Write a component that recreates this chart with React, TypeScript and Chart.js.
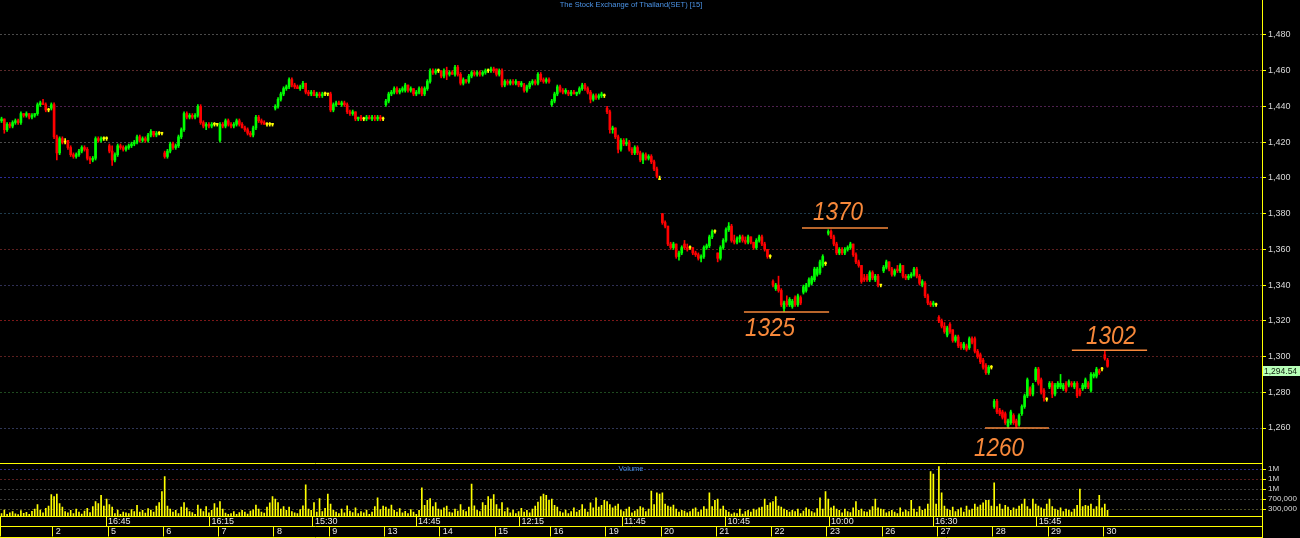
import React, { useEffect, useRef } from "react";
import { Chart, registerables } from "chart.js";

Chart.register(...registerables);

// ---- DATA: 15-minute bars, [open, high, low, close], one array per trading day ----
const day01 = [
  [1431,1434,1430,1433],[1432,1434,1431,1433],[1433,1433,1425,1427],[1427,1431,1426,1430],[1430,1431,1428,1429],
  [1429,1432,1428,1431],[1431,1433,1430,1432],[1432,1433,1430,1431],[1431,1437,1430,1436],[1436,1436,1434,1435],
  [1435,1437,1434,1436],[1436,1436,1433,1434],[1434,1436,1433,1435],[1435,1436,1434,1436],[1436,1442,1435,1441],
  [1441,1443,1440,1442],[1442,1444,1441,1441],[1441,1442,1437,1438],[1438,1439,1437,1438],[1439,1442,1438,1441],
];
const day02 = [
  [1441,1442,1422,1423],[1423,1424,1410,1414],[1414,1423,1413,1422],[1422,1423,1419,1420],[1420,1422,1419,1420],
  [1421,1421,1416,1417],[1417,1418,1412,1413],[1413,1414,1411,1412],[1412,1414,1411,1413],[1413,1416,1412,1415],
  [1415,1418,1414,1417],[1417,1418,1415,1416],[1416,1417,1410,1411],[1411,1412,1408,1410],[1410,1412,1409,1411],
  [1411,1423,1410,1422],[1422,1423,1420,1421],[1421,1423,1420,1422],[1422,1423,1421,1422],[1422,1423,1421,1422],
];
const day05 = [
  [1418,1419,1414,1415],[1415,1418,1407,1410],[1410,1414,1409,1413],[1413,1419,1412,1418],[1418,1419,1416,1417],
  [1417,1418,1415,1416],[1416,1418,1415,1417],[1417,1419,1416,1418],[1418,1420,1417,1419],[1419,1421,1418,1420],
  [1420,1424,1419,1423],[1423,1424,1420,1421],[1421,1423,1420,1422],[1422,1423,1420,1421],[1421,1425,1420,1424],
  [1424,1427,1423,1426],[1426,1426,1423,1424],[1424,1426,1423,1425],[1425,1426,1424,1425],[1425,1425,1424,1425],
];
const day06 = [
  [1414,1415,1411,1412],[1412,1416,1411,1415],[1415,1420,1414,1419],[1419,1420,1416,1417],[1417,1419,1416,1418],
  [1418,1424,1417,1423],[1423,1428,1422,1427],[1427,1437,1426,1436],[1436,1437,1433,1434],[1434,1436,1433,1435],
  [1435,1436,1433,1434],[1434,1436,1433,1435],[1435,1441,1434,1440],[1440,1441,1430,1431],[1431,1432,1428,1429],
  [1429,1431,1427,1430],[1430,1431,1428,1429],[1429,1431,1428,1430],[1430,1431,1429,1430],[1430,1430,1429,1430],
];
const day07 = [
  [1421,1431,1420,1430],[1430,1431,1428,1429],[1429,1433,1428,1432],[1432,1433,1429,1430],[1430,1431,1428,1429],
  [1429,1431,1428,1430],[1430,1433,1429,1432],[1432,1433,1429,1430],[1430,1431,1428,1428],[1428,1429,1426,1427],
  [1427,1428,1424,1425],[1425,1426,1423,1424],[1424,1429,1423,1428],[1428,1435,1427,1434],[1434,1435,1431,1432],
  [1432,1433,1430,1431],[1431,1432,1430,1430],[1430,1431,1429,1430],[1430,1431,1429,1430],[1430,1430,1429,1430],
];
const day08 = [
  [1439,1441,1438,1440],[1440,1445,1439,1444],[1444,1448,1443,1447],[1447,1451,1446,1450],[1450,1452,1449,1451],
  [1451,1456,1450,1455],[1455,1456,1451,1452],[1452,1453,1450,1451],[1451,1452,1450,1450],[1450,1452,1449,1451],
  [1451,1454,1450,1453],[1453,1453,1447,1448],[1448,1449,1446,1447],[1447,1449,1446,1448],[1448,1449,1446,1446],
  [1446,1448,1445,1447],[1447,1448,1445,1446],[1446,1448,1445,1447],[1447,1448,1446,1447],[1447,1447,1446,1447],
];
const day09 = [
  [1447,1448,1437,1438],[1438,1442,1437,1441],[1441,1443,1440,1442],[1442,1443,1441,1441],[1441,1443,1440,1442],
  [1442,1443,1440,1441],[1441,1442,1436,1437],[1437,1438,1435,1436],[1436,1438,1435,1437],[1437,1437,1432,1433],
  [1433,1434,1432,1434],[1434,1435,1432,1433],[1433,1434,1432,1433],[1433,1435,1432,1434],[1434,1435,1433,1433],
  [1433,1435,1432,1434],[1434,1435,1432,1433],[1433,1435,1432,1434],[1434,1435,1432,1433],[1433,1434,1432,1433],
];
const day13 = [
  [1441,1444,1440,1443],[1443,1448,1442,1447],[1447,1449,1446,1448],[1448,1451,1447,1450],[1450,1451,1447,1448],
  [1448,1450,1447,1449],[1449,1451,1448,1450],[1449,1453,1448,1452],[1452,1452,1448,1449],[1449,1451,1448,1450],
  [1450,1450,1446,1447],[1447,1449,1446,1448],[1448,1451,1447,1450],[1450,1451,1446,1447],[1447,1451,1446,1450],
  [1450,1455,1449,1454],[1454,1461,1453,1460],[1460,1461,1458,1459],[1459,1461,1458,1460],[1460,1461,1459,1460],
];
const day14 = [
  [1460,1460,1456,1457],[1457,1461,1456,1460],[1460,1462,1455,1458],[1458,1460,1457,1459],[1459,1460,1458,1458],
  [1458,1463,1457,1462],[1462,1463,1457,1458],[1458,1459,1452,1453],[1453,1456,1452,1455],[1455,1455,1453,1454],
  [1454,1458,1453,1457],[1457,1460,1456,1459],[1459,1460,1457,1458],[1458,1460,1457,1459],[1459,1460,1457,1458],
  [1458,1460,1457,1459],[1459,1461,1458,1460],[1460,1461,1459,1460],[1460,1462,1459,1461],[1461,1462,1459,1460],
];
const day15 = [
  [1461,1461,1457,1458],[1458,1461,1457,1460],[1460,1461,1451,1452],[1452,1455,1451,1454],[1454,1455,1452,1453],
  [1453,1455,1452,1454],[1454,1455,1452,1453],[1453,1455,1452,1454],[1454,1454,1451,1452],[1452,1454,1451,1453],
  [1452,1453,1448,1449],[1449,1452,1448,1451],[1451,1454,1450,1453],[1453,1455,1452,1454],[1454,1455,1452,1453],
  [1453,1459,1452,1458],[1458,1459,1454,1455],[1455,1456,1453,1454],[1454,1456,1453,1455],[1455,1456,1453,1454],
];
const day16 = [
  [1441,1444,1440,1443],[1443,1448,1442,1447],[1447,1452,1446,1451],[1451,1452,1448,1449],[1449,1450,1447,1448],
  [1448,1450,1447,1449],[1448,1449,1446,1447],[1447,1449,1446,1448],[1448,1449,1447,1447],[1447,1448,1446,1448],
  [1448,1451,1447,1450],[1450,1453,1449,1452],[1452,1453,1449,1450],[1450,1451,1447,1448],[1448,1449,1442,1444],
  [1444,1447,1443,1446],[1446,1447,1444,1445],[1445,1447,1444,1446],[1446,1448,1445,1447],[1446,1447,1445,1446],
];
const day19 = [
  [1439,1440,1436,1437],[1437,1438,1425,1427],[1427,1429,1425,1428],[1428,1428,1422,1423],[1423,1424,1414,1416],
  [1416,1422,1415,1421],[1421,1422,1418,1419],[1419,1422,1418,1420],[1420,1421,1415,1416],[1416,1417,1413,1414],
  [1414,1418,1413,1417],[1417,1418,1413,1414],[1414,1415,1409,1410],[1410,1414,1408,1413],[1413,1414,1410,1411],
  [1411,1413,1410,1412],[1412,1413,1408,1409],[1409,1410,1404,1405],[1405,1406,1400,1401],[1399,1401,1399,1399],
];
const day20 = [
  [1380,1380,1374,1375],[1375,1376,1372,1373],[1373,1373,1362,1363],[1363,1364,1360,1361],[1361,1364,1360,1363],
  [1363,1363,1355,1356],[1356,1359,1354,1358],[1358,1362,1357,1361],[1363,1365,1360,1361],[1361,1363,1359,1360],
  [1361,1362,1360,1361],[1361,1361,1357,1358],[1358,1359,1356,1357],[1357,1358,1354,1355],[1355,1357,1353,1356],
  [1356,1362,1355,1361],[1361,1363,1360,1362],[1362,1368,1361,1367],[1367,1371,1366,1370],[1370,1371,1369,1370],
];
const day21 = [
  [1358,1358,1353,1355],[1355,1362,1354,1361],[1361,1366,1360,1365],[1365,1372,1364,1371],[1371,1375,1370,1373],
  [1373,1374,1364,1365],[1365,1368,1363,1364],[1364,1367,1363,1366],[1366,1368,1364,1367],[1367,1368,1364,1365],
  [1365,1367,1363,1364],[1364,1368,1363,1367],[1367,1367,1363,1364],[1364,1364,1360,1361],[1361,1366,1360,1365],
  [1365,1368,1364,1367],[1367,1368,1362,1363],[1363,1364,1359,1360],[1360,1360,1355,1356],[1356,1357,1355,1356],
];
const day22 = [
  [1342,1343,1339,1340],[1338,1341,1337,1340],[1340,1345,1336,1337],[1337,1338,1328,1329],[1327,1331,1325,1330],
  [1331,1334,1328,1329],[1329,1333,1328,1332],[1328,1332,1327,1331],[1333,1334,1328,1329],[1329,1335,1328,1334],
  [1333,1334,1329,1330],[1336,1340,1335,1339],[1337,1341,1336,1340],[1340,1344,1339,1343],[1341,1345,1340,1344],
  [1343,1350,1342,1349],[1346,1350,1345,1349],[1347,1354,1346,1353],[1351,1357,1350,1356],[1352,1353,1351,1352],
];
const day23 = [
  [1369,1371,1368,1370],[1370,1371,1366,1367],[1367,1368,1362,1363],[1363,1364,1357,1358],[1358,1361,1357,1360],
  [1360,1361,1357,1358],[1358,1361,1357,1360],[1360,1362,1359,1361],[1361,1364,1360,1363],[1363,1363,1356,1357],
  [1357,1358,1352,1353],[1353,1354,1350,1351],[1351,1351,1341,1342],[1344,1346,1342,1343],[1345,1346,1342,1343],
  [1343,1348,1342,1347],[1347,1348,1343,1344],[1343,1346,1342,1345],[1345,1346,1339,1340],[1340,1340,1339,1340],
];
const day26 = [
  [1348,1351,1347,1350],[1350,1354,1349,1353],[1353,1353,1348,1349],[1349,1350,1345,1346],[1346,1349,1345,1348],
  [1349,1351,1347,1348],[1348,1352,1347,1351],[1351,1351,1344,1345],[1345,1346,1343,1344],[1344,1346,1343,1345],
  [1345,1347,1344,1346],[1346,1350,1345,1349],[1349,1350,1344,1345],[1345,1346,1340,1341],[1340,1343,1339,1342],
  [1341,1342,1333,1334],[1334,1335,1329,1330],[1330,1331,1328,1329],[1329,1331,1328,1330],[1329,1330,1328,1329],
];
const day27 = [
  [1322,1323,1319,1320],[1320,1321,1316,1317],[1317,1319,1313,1314],[1312,1317,1311,1316],[1318,1319,1313,1314],
  [1315,1315,1308,1309],[1309,1312,1308,1311],[1311,1312,1305,1306],[1307,1308,1304,1305],[1305,1308,1304,1307],
  [1306,1307,1303,1304],[1305,1311,1304,1310],[1310,1311,1307,1308],[1310,1311,1302,1303],[1303,1304,1299,1300],
  [1301,1302,1296,1297],[1298,1299,1293,1294],[1295,1296,1290,1291],[1291,1295,1290,1294],[1294,1295,1293,1294],
];
const day28 = [
  [1272,1276,1271,1275],[1275,1276,1268,1269],[1270,1271,1267,1268],[1269,1270,1265,1266],[1268,1269,1262,1263],
  [1261,1265,1260,1264],[1263,1270,1262,1269],[1267,1268,1262,1263],[1264,1265,1260,1261],[1262,1268,1261,1267],
  [1268,1273,1267,1272],[1272,1279,1271,1278],[1278,1288,1277,1287],[1282,1283,1278,1279],[1279,1285,1278,1284],
  [1287,1294,1286,1293],[1293,1294,1284,1285],[1287,1288,1279,1280],[1281,1282,1275,1277],[1276,1277,1275,1276],
];
const day29 = [
  [1283,1286,1282,1285],[1285,1286,1277,1279],[1279,1285,1278,1284],[1283,1286,1282,1285],[1283,1290,1282,1285],
  [1282,1285,1281,1284],[1285,1286,1280,1281],[1284,1287,1283,1286],[1285,1286,1283,1284],[1283,1286,1282,1285],
  [1285,1286,1277,1278],[1281,1282,1278,1279],[1282,1285,1281,1284],[1283,1288,1282,1287],[1285,1286,1282,1283],
  [1281,1291,1280,1290],[1289,1291,1288,1290],[1289,1294,1288,1293],[1292,1293,1290,1291],[1293,1294,1292,1293],
];
const day30 = [
  [1301,1303,1298,1299],[1298,1299,1294,1294.54],
];

// Volume per bar, thousands of shares
const vol01 = [180,120,260,90,150,200,110,80,240,130,170,90,210,300,480,260,150,330,420,880];
const vol02 = [800,900,520,380,200,150,250,120,300,180,100,220,330,160,400,600,520,850,420,700];
const vol05 = [480,380,120,260,90,180,150,120,280,200,450,180,250,140,320,260,180,420,560,1000];
const vol06 = [1600,420,300,180,250,120,380,560,350,200,160,90,460,300,200,400,150,250,520,350];
const vol07 = [600,300,140,90,120,200,90,160,250,180,100,220,270,460,300,180,140,380,550,800];
const vol08 = [700,560,300,400,250,380,200,150,120,280,430,1270,300,250,560,180,720,200,330,900];
const vol09 = [500,250,180,120,300,150,430,220,160,350,120,200,150,260,90,180,400,750,280,420];
const vol13 = [380,300,460,250,180,320,150,210,120,280,180,90,250,1150,450,650,720,400,560,300];
const vol14 = [260,350,420,180,150,300,220,480,260,200,380,1300,430,250,200,560,450,800,700,880];
const vol15 = [480,300,560,200,350,150,260,120,200,330,180,250,150,300,420,580,800,900,850,650];
const vol16 = [700,450,380,200,150,260,120,200,350,180,250,480,300,180,550,350,750,380,450,650];
const vol19 = [600,480,350,420,500,260,200,300,380,150,220,280,400,350,200,300,1020,480,950,900];
const vol20 = [950,500,420,380,460,300,180,250,220,150,200,300,350,180,260,400,300,950,400,650];
const vol21 = [700,300,420,250,180,100,150,120,300,100,200,250,180,300,260,350,380,700,450,550];
const vol22 = [600,800,420,380,300,250,180,250,200,300,120,220,350,280,200,150,320,750,300,1000];
const vol23 = [700,350,420,300,250,150,300,200,160,350,600,250,300,200,180,260,400,700,350,300];
const vol26 = [280,150,200,250,180,120,350,180,260,200,650,300,180,400,250,300,500,1800,1700,500];
const vol27 = [2000,950,420,300,250,380,200,280,350,180,420,250,300,500,380,460,550,650,650,420];
const vol28 = [1350,400,500,300,450,380,250,350,300,420,500,700,400,300,700,500,420,350,300,500];
const vol29 = [700,400,300,250,350,200,300,250,180,300,450,1100,400,450,420,500,300,400,850,350];
const vol30 = [500,250];

const candles = [
  ...day01, ...day02, ...day05, ...day06, ...day07, ...day08, ...day09, ...day13, ...day14, ...day15,
  ...day16, ...day19, ...day20, ...day21, ...day22, ...day23, ...day26, ...day27, ...day28, ...day29, ...day30,
];
const volumeK = [
  ...vol01, ...vol02, ...vol05, ...vol06, ...vol07, ...vol08, ...vol09, ...vol13, ...vol14, ...vol15,
  ...vol16, ...vol19, ...vol20, ...vol21, ...vol22, ...vol23, ...vol26, ...vol27, ...vol28, ...vol29, ...vol30,
];

const BARS_PER_DAY = 20;
const dateLabels = ["2","5","6","7","8","9","13","14","15","16","19","20","21","22","23","26","27","28","29","30"];
const timeLabels = ["16:45","16:15","15:30","14:45","12:15","11:45","10:45","10:00","16:30","15:45"];
const timeTickBars = [38.8, 76.2, 113.6, 150.9, 188.3, 225.4, 262.8, 300.3, 337.9, 375.4];
const priceTicks = [1260,1280,1300,1320,1340,1360,1380,1400,1420,1440,1460,1480];
const volumeTicks = [300000,700000,1100000,1500000,1900000];
const lastPrice = 1294.54;
const TITLE = "The Stock Exchange of Thailand(SET) [15]";

// annotation levels: label, level of the drawn line, line start/end bar
const markLabels = ["1370","1325","1302","1260"];
const markLevels = [1372, 1325, 1303.5, 1260];
const markFrom = [290.5, 269.5, 388.1, 356.7];
const markTo = [321.6, 300.3, 415.3, 379.8];
// label placement (bar index of left edge, price of baseline)
const markTextBar = [294.5, 269.9, 393.2, 352.7];
const markTextPrice = [1376.7, 1311.7, 1307.0, 1244.3];

// ---- styling ----
const X_MIN = 0.44;
const X_MAX = 456.86;
const FONT = '"Liberation Sans", Arial, sans-serif';
const YELLOW = "#ffff00";
const ORANGE = "#f7883a";

const priceGridColors: Record<number, string> = {
  1480: "#4a4a4a", 1460: "#5c2a2a", 1440: "#4e214e", 1420: "#4a4a4a", 1400: "#2b2b98",
  1380: "#1f3b4c", 1360: "#5c1f1f", 1340: "#2f2f55", 1320: "#7c1818", 1300: "#5c1f1f",
  1280: "#1f4a1f", 1260: "#2f3656",
};
const volGridColors: Record<number, string> = {
  1900000: "#2b2b88", 1500000: "#5c1f1f", 1100000: "#3c3c3c", 700000: "#3c3c3c", 300000: "#4c4c2a",
};

function candleColor(c: number[]) {
  if (c[3] === c[0]) return YELLOW;
  return c[3] > c[0] ? "#00ff00" : "#ff0000";
}

export default function App() {
  const refA = useRef<HTMLCanvasElement>(null);
  const refB = useRef<HTMLCanvasElement>(null);

  useEffect(() => {
    const colors = candles.map(candleColor);
    const wickData = candles.map((c, i) => ({ x: i, y: [c[2], c[1]] }));
    const bodyData = candles.map((c, i) => ({ x: i, y: [c[0], c[3]] }));
    const volData = volumeK.map((v, i) => ({ x: i, y: v * 1000 }));

    const lineSets = markLevels.map((lvl, k) => ({
      type: "line" as const,
      data: [{ x: markFrom[k], y: lvl }, { x: markTo[k], y: lvl }],
      borderColor: ORANGE,
      borderWidth: 1.5,
      pointRadius: 0,
      fill: false,
      order: 0,
    }));

    const overlayA = {
      id: "overlayA",
      afterDraw(chart: any) {
        const { ctx } = chart;
        const xs = chart.scales.x;
        const ys = chart.scales.y;
        ctx.save();
        ctx.font = `7.5px ${FONT}`;
        ctx.fillStyle = "#4b93e6";
        ctx.textAlign = "center";
        ctx.textBaseline = "top";
        ctx.fillText(TITLE, 631, 1);

        ctx.fillStyle = ORANGE;
        ctx.font = `italic 25px ${FONT}`;
        ctx.textAlign = "left";
        ctx.textBaseline = "alphabetic";
        markLabels.forEach((lab, k) => {
          const px = xs.getPixelForValue(markTextBar[k]);
          const py = ys.getPixelForValue(markTextPrice[k]);
          ctx.save();
          ctx.translate(px, py);
          ctx.scale(0.9, 1);
          ctx.fillText(lab, 0, 0);
          ctx.restore();
        });

        const py = Math.round(ys.getPixelForValue(lastPrice));
        ctx.fillStyle = "#b8ffb8";
        ctx.fillRect(1263, py, 37, 10);
        ctx.fillStyle = "#102010";
        ctx.font = `8.5px ${FONT}`;
        ctx.textBaseline = "middle";
        ctx.fillText(lastPrice.toLocaleString("en-US"), 1264, py + 5.5);
        ctx.restore();
      },
    };

    const chartA = new Chart(refA.current as HTMLCanvasElement, {
      type: "bar",
      data: {
        datasets: [
          ...lineSets,
          { type: "bar", data: wickData, backgroundColor: colors, barThickness: 1, grouped: false, order: 2 } as any,
          { type: "bar", data: bodyData, backgroundColor: colors, barThickness: 2, grouped: false, minBarLength: 1, order: 1 } as any,
        ],
      },
      options: {
        responsive: false,
        animation: false,
        devicePixelRatio: 1,
        layout: { padding: 0 },
        plugins: { legend: { display: false }, tooltip: { enabled: false } },
        scales: {
          x: { type: "linear", min: X_MIN, max: X_MAX, offset: false, display: false, grid: { offset: false } },
          y: {
            type: "linear",
            position: "right",
            min: 1240.41,
            max: 1499.59,
            afterFit: (s: any) => { s.width = 38; s.paddingTop = 0; s.paddingBottom = 0; },
            afterBuildTicks: (s: any) => { s.ticks = priceTicks.map((v) => ({ value: v })); },
            ticks: {
              color: "#d8d8d8",
              font: { family: FONT, size: 9 },
              padding: 2,
              autoSkip: false,
              callback: (v: any) => Number(v).toLocaleString("en-US"),
            },
            grid: {
              color: (c: any) => priceGridColors[c.tick?.value] || "#3a3a3a",
              tickColor: YELLOW,
              tickLength: 4,
              lineWidth: 1,
            },
            border: { color: YELLOW, width: 1, dash: [2, 2] },
          },
        },
      } as any,
      plugins: [overlayA],
    });

    const overlayB = {
      id: "overlayB",
      afterDraw(chart: any) {
        const { ctx } = chart;
        ctx.save();
        ctx.strokeStyle = YELLOW;
        ctx.lineWidth = 1;
        ctx.beginPath();
        ctx.moveTo(0, 0.5); ctx.lineTo(1262, 0.5);
        ctx.moveTo(0, 74.5); ctx.lineTo(1262, 74.5);
        ctx.moveTo(1262.5, 0); ctx.lineTo(1262.5, 75);
        ctx.stroke();
        ctx.font = `7.5px ${FONT}`;
        ctx.fillStyle = "#4b93e6";
        ctx.textAlign = "center";
        ctx.textBaseline = "middle";
        ctx.fillText("Volume", 631, 5.5);
        ctx.restore();
      },
    };

    const dateTicks = [X_MIN, ...dateLabels.map((_, k) => (k + 1) * BARS_PER_DAY - 0.5)];
    const timeTicks = [X_MIN, ...timeTickBars];

    const xAxisCommon = {
      type: "linear",
      min: X_MIN,
      max: X_MAX,
      offset: false,
      position: "bottom",
      grid: { drawOnChartArea: false, color: YELLOW, tickColor: YELLOW, tickLength: 10, offset: false },
      border: { color: YELLOW, width: 1 },
    };

    const chartB = new Chart(refB.current as HTMLCanvasElement, {
      type: "bar",
      data: {
        datasets: [
          { type: "bar", data: volData, backgroundColor: YELLOW, barThickness: 1, grouped: false, xAxisID: "x", yAxisID: "y" } as any,
        ],
      },
      options: {
        responsive: false,
        animation: false,
        devicePixelRatio: 1,
        layout: { padding: { top: 0, left: 0, right: 0, bottom: 0.5 } },
        plugins: { legend: { display: false }, tooltip: { enabled: false } },
        scales: {
          x: {
            ...xAxisCommon,
            weight: 0,
            afterFit: (s: any) => { s.height = 10; s.paddingLeft = 0; s.paddingRight = 0; },
            afterBuildTicks: (s: any) => { s.ticks = timeTicks.map((v) => ({ value: v })); },
            ticks: {
              autoSkip: false, maxRotation: 0, minRotation: 0, align: "start", padding: -10, labelOffset: 2,
              color: "#e6e6e6", font: { family: FONT, size: 9 },
              callback: (_v: any, i: number) => (i === 0 ? "" : timeLabels[i - 1]),
            },
          },
          xd: {
            ...xAxisCommon,
            weight: 1,
            afterFit: (s: any) => { s.height = 11; s.paddingLeft = 0; s.paddingRight = 0; },
            afterBuildTicks: (s: any) => { s.ticks = dateTicks.map((v) => ({ value: v })); },
            ticks: {
              autoSkip: false, maxRotation: 0, minRotation: 0, align: "start", padding: -10, labelOffset: 3,
              color: "#e6e6e6", font: { family: FONT, size: 9 },
              callback: (_v: any, i: number) => (i === 0 ? "" : dateLabels[i - 1]),
            },
          },
          y: {
            type: "linear",
            position: "right",
            min: 0,
            max: 2140000,
            afterFit: (s: any) => { s.width = 38; s.paddingTop = 0; s.paddingBottom = 0; },
            afterBuildTicks: (s: any) => { s.ticks = volumeTicks.map((v) => ({ value: v })); },
            ticks: {
              color: "#d8d8d8",
              font: { family: FONT, size: 8 },
              padding: 2,
              autoSkip: false,
              callback: (v: any) => (Number(v) >= 1000000 ? "1M" : Number(v).toLocaleString("en-US")),
            },
            grid: {
              color: (c: any) => volGridColors[c.tick?.value] || "#3a3a3a",
              tickColor: YELLOW,
              tickLength: 4,
              lineWidth: 1,
            },
            border: { color: YELLOW, width: 1, dash: [2, 2] },
          },
        },
      } as any,
      plugins: [overlayB],
    });

    return () => {
      chartA.destroy();
      chartB.destroy();
    };
  }, []);

  return (
    <div style={{ position: "fixed", left: 0, top: 0, width: 1300, height: 538, background: "#000", overflow: "hidden" }}>
      <canvas ref={refA} width={1300} height={463} style={{ display: "block", width: 1300, height: 463 }} />
      <canvas ref={refB} width={1300} height={75} style={{ display: "block", width: 1300, height: 75 }} />
    </div>
  );
}
